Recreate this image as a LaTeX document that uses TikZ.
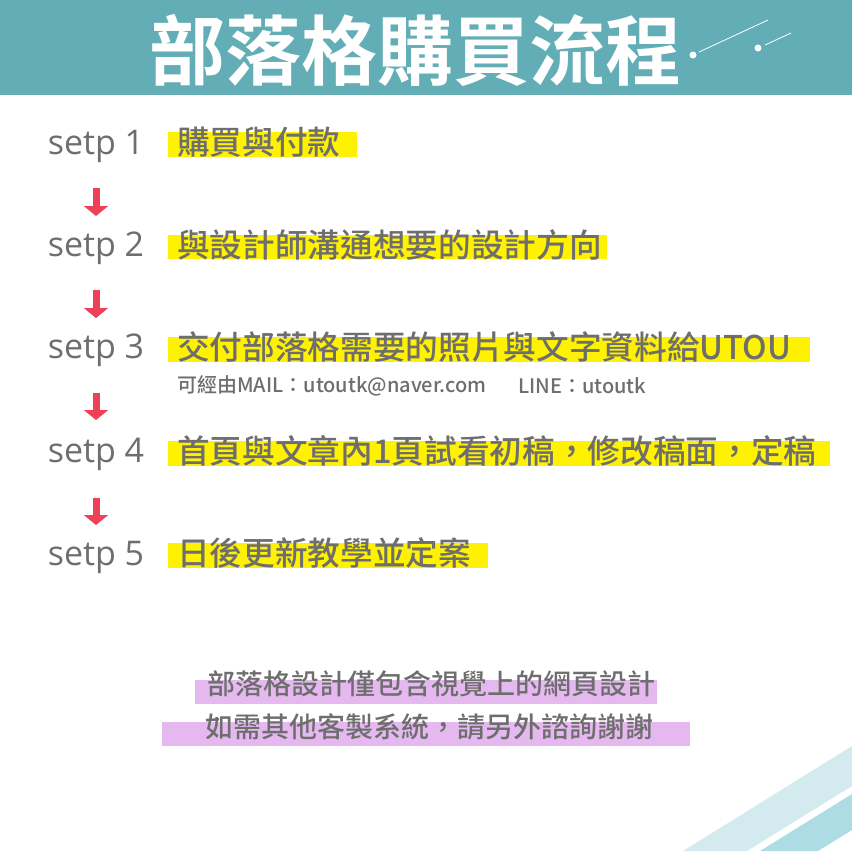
\documentclass[tikz,border=0pt]{standalone}
\usepackage{fontspec}
\setmainfont{Open Sans}
\newfontfamily\cjk{Noto Sans CJK TC Medium}
\newfontfamily\cjkbold{Noto Sans CJK TC Bold}
\newfontfamily\latin{Open Sans}
\usetikzlibrary{arrows.meta}
\definecolor{band}{RGB}{98,173,182}
\definecolor{txtgray}{RGB}{110,110,110}
\definecolor{hlyellow}{RGB}{255,242,0}
\definecolor{hlpurple}{RGB}{229,185,240}
\definecolor{arrred}{RGB}{238,64,86}
\definecolor{stripelight}{RGB}{211,235,239}
\definecolor{stripedark}{RGB}{174,220,228}
\begin{document}
\begin{tikzpicture}[x=0.75pt,y=-0.75pt,
  steplabel/.style={font=\latin\fontsize{25.5}{30}\selectfont, text=txtgray, inner sep=0pt},
  steptext/.style={font=\cjk\fontsize{24.5}{30}\selectfont, text=txtgray, inner sep=0pt, anchor=west},
  bar/.style={fill=hlyellow},
  pbar/.style={fill=hlpurple},
  downarrow/.style={draw=arrred, line width=5.25pt, -{Triangle[width=18pt,length=7.5pt]}},
  note/.style={font=\cjk\fontsize{21}{26}\selectfont, text=txtgray, inner sep=0pt},
  deco/.style={draw=white, line width=0.6pt}]
\useasboundingbox (0,0) rectangle (852,851);
\fill[white] (0,0) rectangle (852,851);
% title band
\fill[band] (0,0) rectangle (852,95);
\node[font=\cjkbold\fontsize{57}{60}\selectfont, text=white, inner sep=0pt] (title) at (415,50) {部落格購買流程};
\fill[white] (693,55) circle (3.5);
\fill[white] (758,48) circle (3.5);
\draw[deco] (699,52) -- (768,20);
\draw[deco] (765,45) -- (791,33);
% highlight bars
\fill[bar] (168,132) rectangle (357,157);
\fill[bar] (168,235) rectangle (607,259);
\fill[bar] (168,337) rectangle (810,362);
\fill[bar] (168,441) rectangle (830,466);
\fill[bar] (168,543) rectangle (488,568);
% step labels
\node[steplabel] (s1) at (96,146) {setp 1};
\node[steplabel] (s2) at (96,248) {setp 2};
\node[steplabel] (s3) at (96,350) {setp 3};
\node[steplabel] (s4) at (96,454) {setp 4};
\node[steplabel] (s5) at (96,557) {setp 5};
% step texts
\node[steptext] (t1) at (177,142) {購買與付款};
\node[steptext] (t2) at (177,245) {與設計師溝通想要的設計方向};
\node[steptext] (t3) at (177,347) {交付部落格需要的照片與文字資料給UTOU};
\node[steptext] (t4) at (177,451) {首頁與文章內1頁試看初稿，修改稿面，定稿};
\node[steptext] (t5) at (177,553) {日後更新教學並定案};
\node[font=\cjk\fontsize{15}{18}\selectfont, text=txtgray, inner sep=0pt, anchor=west] (mail) at (177,386) {可經由MAIL：utoutk@naver.com};
\node[font=\cjk\fontsize{15}{18}\selectfont, text=txtgray, inner sep=0pt, anchor=west] (line) at (518,386) {LINE：utoutk};
% arrows (px offsets converted to pt), measured from node centres
\draw[downarrow, shorten <=31.5pt, shorten >=24pt] (s1.center) -- (s2.center);
\draw[downarrow, shorten <=31.5pt, shorten >=24pt] (s2.center) -- (s3.center);
\draw[downarrow, shorten <=32.25pt, shorten >=25.5pt] (s3.center) -- (s4.center);
\draw[downarrow, shorten <=33pt, shorten >=24pt] (s4.center) -- (s5.center);
% bottom note
\fill[pbar] (195,680) rectangle (657,704);
\fill[pbar] (162,722) rectangle (690,746);
\node[note] (n1) at (431,684) {部落格設計僅包含視覺上的網頁設計};
\node[note] (n2) at (429,727) {如需其他客製系統，請另外諮詢謝謝};
% stripes
\fill[stripelight] (683,851) -- (852,746) -- (852,786) -- (747,851) -- cycle;
\fill[stripedark] (760,851) -- (852,794) -- (852,830) -- (818,851) -- cycle;
\end{tikzpicture}
\end{document}
